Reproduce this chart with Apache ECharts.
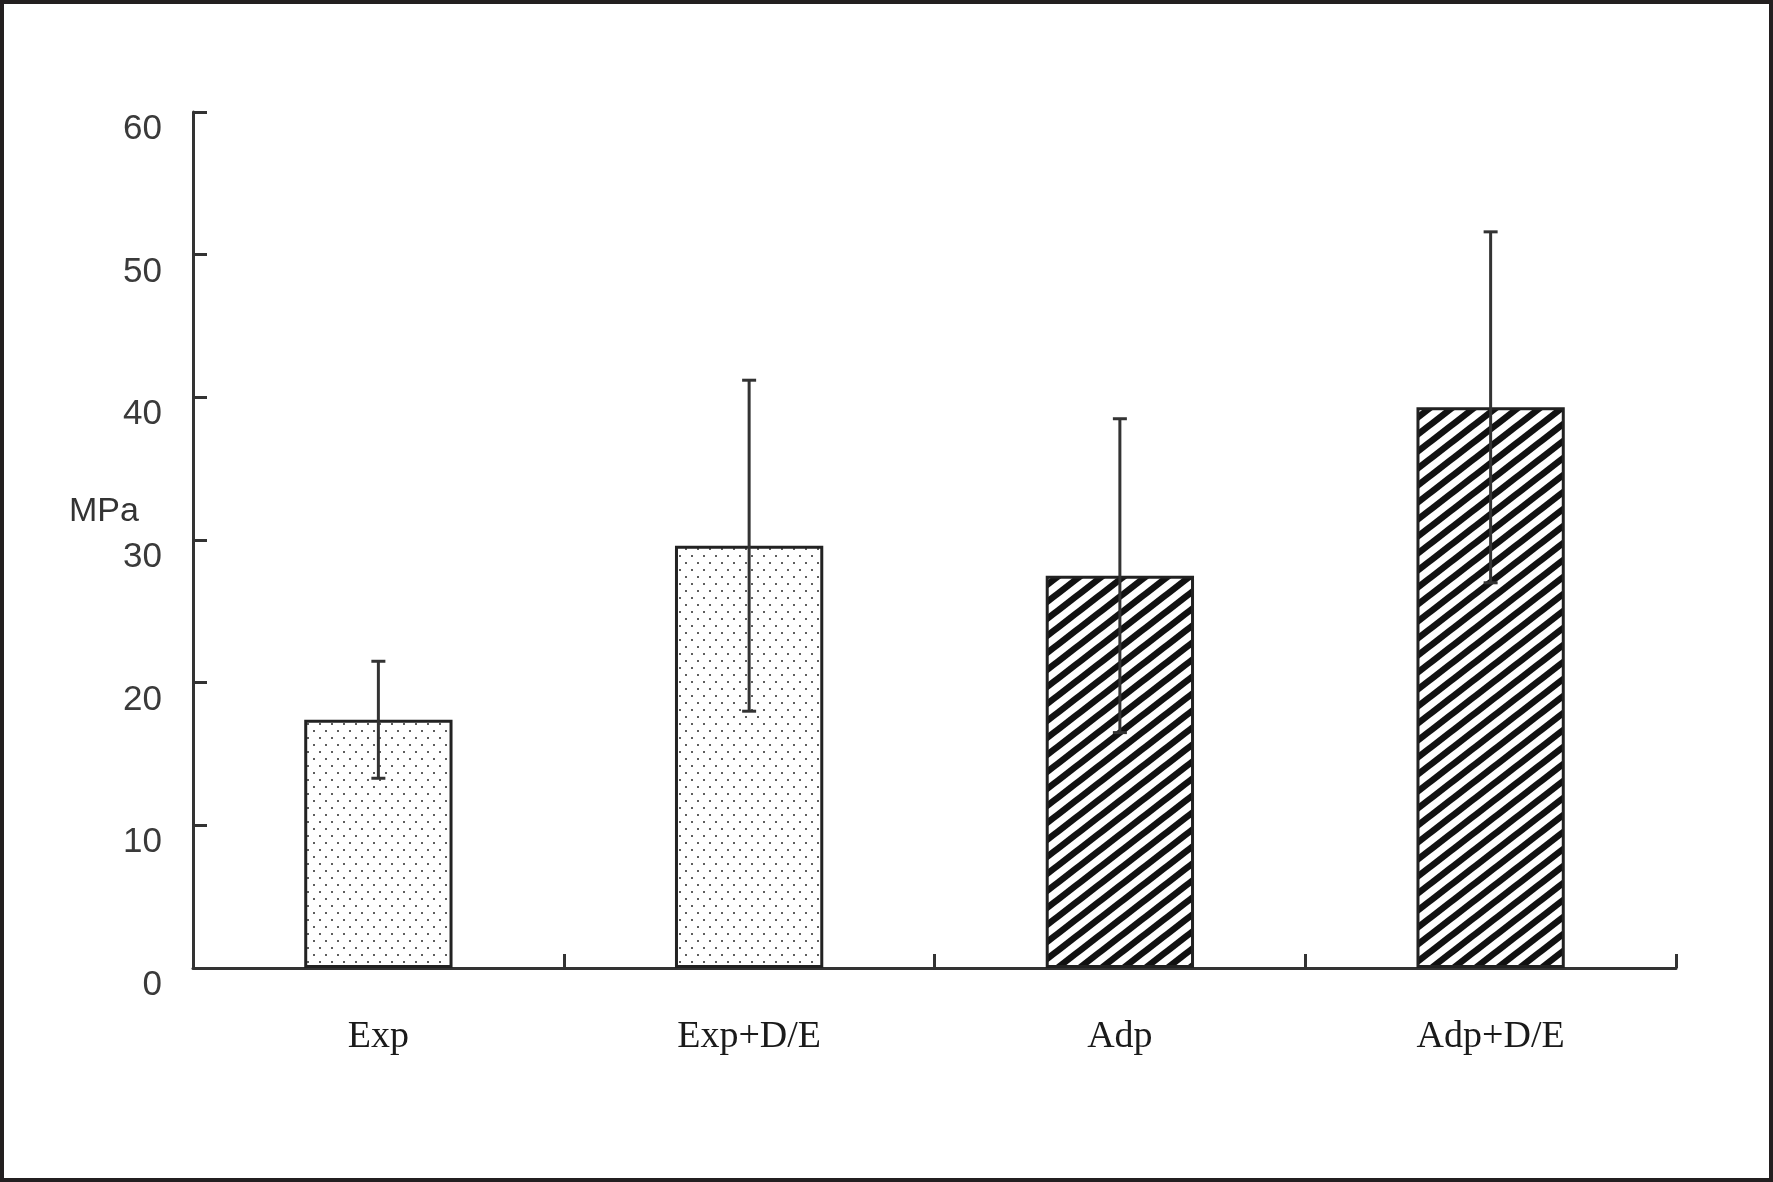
<!DOCTYPE html>
<html>
<head>
<meta charset="utf-8">
<script src="https://cdn.jsdelivr.net/npm/echarts@6/dist/echarts.min.js"></script>
<style>
html,body{margin:0;padding:0;background:#fff;}
#c{width:1773px;height:1182px;}
</style>
</head>
<body>
<div id="c"></div>
<script>
// ---- data ----
var categories = ['Exp', 'Exp+D/E', 'Adp', 'Adp+D/E'];
var means = [17.4, 29.6, 27.5, 39.3];
var sds = [4.1, 11.6, 11.0, 12.3];
var yTicks = [0, 10, 20, 30, 40, 50, 60];
var patterns = ['dots', 'dots', 'stripes', 'stripes'];

function dotTile() {
  var w = 12, h = 14;
  var c = document.createElement('canvas');
  c.width = w; c.height = h;
  var g = c.getContext('2d');
  g.fillStyle = '#ffffff'; g.fillRect(0, 0, w, h);
  g.fillStyle = '#5e5e5e';
  g.fillRect(1, 2, 2, 2);
  g.fillRect(7, 9, 2, 2);
  return c;
}
function stripeTile() {
  var w = 22, h = 17;
  var c = document.createElement('canvas');
  c.width = w; c.height = h;
  var g = c.getContext('2d');
  g.fillStyle = '#ffffff'; g.fillRect(0, 0, w, h);
  g.strokeStyle = '#111111'; g.lineWidth = 6.5;
  for (var k = -2; k <= 2; k++) {
    // long segment along the line through (k*w, h) and (k*w + w, 0)
    g.beginPath();
    g.moveTo(k * w - w, 2 * h);
    g.lineTo(k * w + 2 * w, -h);
    g.stroke();
  }
  return c;
}
var dotImg = dotTile(), stripeImg = stripeTile();

var chart = echarts.init(document.getElementById('c'));
var barData = means.map(function (v, i) {
  return {
    value: v,
    itemStyle: { color: { image: patterns[i] === 'dots' ? dotImg : stripeImg, repeat: 'repeat' } }
  };
});
var errData = means.map(function (v, i) { return [i, v - sds[i], v + sds[i]]; });

chart.setOption({
  animation: false,
  backgroundColor: '#ffffff',
  grid: { left: 193, right: 97, top: 112, bottom: 214, containLabel: false },
  graphic: [
    { type: 'rect', shape: { x: 2, y: 2, width: 1769, height: 1178 },
      style: { fill: 'none', stroke: '#231f20', lineWidth: 4 }, z: 100 },
    { type: 'text', x: 104, y: 512,
      style: { text: 'MPa', font: '34px "Liberation Sans", Arial, sans-serif', fill: '#333',
               textAlign: 'center', textVerticalAlign: 'middle' } }
  ],
  xAxis: {
    type: 'category', data: categories, boundaryGap: true,
    axisLine: { lineStyle: { color: '#333', width: 3 } },
    axisTick: { show: true, interval: 0, alignWithLabel: false, inside: true, length: 14,
                lineStyle: { color: '#333', width: 3 } },
    axisLabel: { margin: 50, color: '#1a1a1a', fontFamily: '"Liberation Serif", "Times New Roman", serif', fontSize: 38 },
    splitLine: { show: false }
  },
  yAxis: {
    type: 'value', min: 0, max: 60, interval: 10,
    axisLine: { show: true, lineStyle: { color: '#333', width: 3 } },
    axisTick: { show: true, inside: true, length: 14, lineStyle: { color: '#333', width: 3 } },
    axisLabel: { margin: 31, color: '#3a3a3a', fontFamily: '"Liberation Sans", Arial, sans-serif', fontSize: 35,
                 verticalAlign: 'top',
                 formatter: function (v) { return yTicks.indexOf(v) >= 0 ? String(v) : ''; } },
    splitLine: { show: false }
  },
  series: [
    {
      type: 'bar', data: barData, barWidth: '40%',
      itemStyle: { borderColor: '#222', borderWidth: 3 }
    },
    {
      type: 'custom', data: errData, z: 10,
      renderItem: function (params, api) {
        var x = api.value(0);
        var lo = api.coord([x, api.value(1)]);
        var hi = api.coord([x, api.value(2)]);
        var cw = 7;
        var st = { stroke: '#333', lineWidth: 3 };
        return { type: 'group', children: [
          { type: 'line', shape: { x1: lo[0], y1: lo[1], x2: hi[0], y2: hi[1] }, style: st },
          { type: 'line', shape: { x1: hi[0] - cw, y1: hi[1], x2: hi[0] + cw, y2: hi[1] }, style: st },
          { type: 'line', shape: { x1: lo[0] - cw, y1: lo[1], x2: lo[0] + cw, y2: lo[1] }, style: st }
        ]};
      }
    }
  ]
});
</script>
</body>
</html>
